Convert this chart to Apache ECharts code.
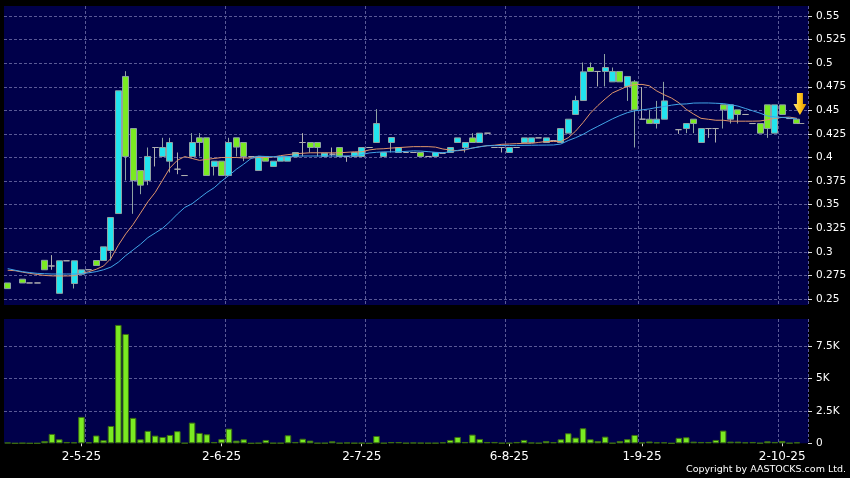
<!DOCTYPE html>
<html><head><meta charset="utf-8">
<script src="https://cdn.jsdelivr.net/npm/echarts@6/dist/echarts.min.js"></script>
<style>html,body{margin:0;padding:0;background:#000;}#c{width:850px;height:478px;}</style>
</head><body><div id="c"></div>
<script>
const openP = [.267,null,.271,.267,.267,.291,.285,.256,.2905,.2664,.2763,.281,.2908,.2908,.3014,.3406,.4859,.4307,.3862,.3756,
.4106,.4011,.3961,.3876,.3809,.4011,.4209,.4209,.3905,.3961,.3809,.4209,.4159,.401,.3862,.4011,.3905,.3961,.3961,.4007,
.4159,.4159,.4159,.4011,.4035,.4106,.4011,.4011,.4011,.4106,.4159,.4011,.4159,.4053,.4053,.4053,.4053,.4011,.4011,.4045,
.4053,.4159,.4106,.4208,.4159,.4258,.4106,.4106,.4053,.4106,.4159,.4159,.4208,.4159,.418,.4159,.4258,.4456,.4604,.4954,
.4912,.4912,.4802,.4912,.4753,.4802,.4406,.4406,.436,.4406,null,.4295,.4307,.4406,.4159,.4307,.4307,.4558,.4406,.4505,
.4456,.436,.436,.4558,.4258,.4558,.4413,.4406];
const closeP = [.261,null,.267,.267,.267,.281,.285,.2905,.2905,.2905,.2809,.281,.2855,.3053,.3364,.4707,.4011,.3756,.3707,.4011,
.4106,.4106,.4159,.3876,.3809,.4159,.4159,.3809,.3961,.3809,.4159,.4110,.4011,.401,.4011,.3961,.3961,.4007,.4007,.4053,
.4159,.4106,.4106,.4046,.4035,.4011,.4011,.4053,.4106,.4106,.436,.4053,.4212,.4106,.4053,.4053,.4011,.4011,.4053,.4045,
.4106,.4208,.4159,.4159,.4258,.4258,.4106,.4106,.4106,.4106,.4208,.4208,.4208,.4208,.418,.4307,.4406,.4604,.4908,.4912,
.4912,.4954,.4912,.4802,.4859,.4505,.4406,.436,.4406,.460,null,.4295,.436,.436,.4307,.4307,.4307,.4505,.4558,.4456,
.4456,.436,.4258,.4307,.4558,.4456,.4413,.436];
const lowP = [.261,null,.267,.267,.267,.281,.281,.256,.2905,.2611,.2763,.281,.2855,.2908,.2908,.3406,.3756,.3403,.3611,.3707,
.3905,.4011,.3841,.3823,.3809,.4011,.4011,.3809,.3809,.3809,.3809,.4011,.3961,.401,.3862,.3961,.3905,.3961,.3961,.4007,
.4011,.4053,.4011,.4011,.4011,.4011,.3954,.4011,.4011,.4106,.4159,.4011,.4053,.4053,.4053,.4053,.4011,.4011,.4011,.4045,
.4053,.4159,.4053,.4159,.4159,.4258,.4106,.4053,.4053,.4106,.4159,.4159,.4208,.4159,.418,.4159,.4258,.4456,.4604,.4912,
.4753,.4753,.4802,.4802,.4600,.4106,.4406,.436,.4307,.4406,null,.425,.4258,.4258,.4159,.4208,.4159,.4307,.436,.436,
.4456,.436,.4258,.4208,.4258,.4456,.4413,.436];
const highP = [.267,null,.271,.267,.267,.291,.2965,.2905,.2905,.2905,.2809,.281,.2908,.3053,.3364,.4707,.4915,.4307,.3862,.4106,
.4106,.4209,.4209,.4053,.3809,.4258,.4258,.4209,.3961,.3961,.4209,.4209,.4159,.401,.4011,.4011,.3961,.4007,.4007,.4053,
.4258,.4159,.4159,.4046,.4106,.4106,.4011,.4053,.4106,.4106,.4512,.4053,.4212,.4106,.4053,.4053,.4053,.4011,.4053,.4045,
.4106,.4208,.4159,.4258,.4258,.4258,.4106,.4106,.4106,.4106,.4208,.4208,.4208,.4208,.418,.4307,.4406,.4654,.5007,.5007,
.4912,.5097,.4954,.4912,.4859,.482,.4747,.4505,.460,.4802,null,.4295,.436,.4406,.4307,.4307,.4307,.4558,.4558,.4505,
.4456,.436,.436,.4558,.4558,.4558,.4413,.4406];
const volume = [50,0,20,0,0,180,722,309,103,77,2036,77,600,240,1335,9123,8427,1959,309,960,
593,490,644,935,20,1595,799,696,103,335,1130,206,309,0,20,258,20,20,618,103,
350,206,20,20,155,20,52,20,20,0,565,20,100,100,20,50,30,20,20,77,
258,490,103,670,335,103,103,20,20,103,258,50,20,180,90,309,773,438,1160,309,
180,515,20,180,320,644,60,140,77,77,0,420,464,129,103,103,258,979,129,129,
77,103,20,155,103,180,20,77];
const maShort = [.2805,.280,.2785,.2772,.276,.275,.2745,.2744,.2744,.2746,.277,.279,.2815,.285,.293,.307,.319,.329,.341,.353,
.363,.376,.389,.397,.401,.399,.397,.398,.399,.400,.400,.400,.3995,.3995,.400,.400,.4005,.402,.403,.404,
.4045,.405,.405,.405,.405,.405,.4055,.406,.406,.408,.409,.4093,.410,.4105,.411,.4115,.4115,.4115,.411,.409,
.408,.4072,.408,.410,.4115,.4125,.413,.414,.4143,.4147,.415,.415,.416,.417,.417,.417,.421,.428,.437,.447,
.455,.462,.4685,.472,.4755,.4772,.4775,.476,.4705,.4665,.463,.458,.451,.446,.4415,.4405,.4395,.4395,.4385,.4385,
.4385,.4385,.4387,.440,.4415,.4425,.4428,.4415];
const maLong = [.2822,.2805,.279,.278,.2772,.2768,.2765,.2765,.2765,.2765,.2768,.2778,.279,.281,.2838,.289,.296,.302,.308,.315,
.320,.325,.332,.340,.347,.351,.357,.363,.368,.375,.381,.3875,.393,.399,.4015,.401,.4008,.4009,.401,.4015,
.4016,.4016,.4016,.4016,.4016,.4016,.4016,.4018,.403,.4048,.4055,.406,.406,.406,.4065,.407,.4068,.4062,.4055,.4051,
.406,.4075,.4088,.410,.4113,.4125,.4126,.4127,.4127,.4128,.4129,.413,.4131,.4132,.4133,.4143,.418,.421,.4245,.429,
.433,.437,.441,.4445,.4475,.4495,.4505,.4515,.453,.454,.4555,.4565,.4568,.4577,.4578,.4578,.4575,.4571,.456,.4545,
.452,.4495,.447,.444,.443,.4425,.4419,.4408];
const slotCount = 109;
const tickIndex = [10,29,48,68,86,105];
const tickLabels = ['2-5-25','2-6-25','2-7-25','6-8-25','1-9-25','2-10-25'];
const gridBoundaries = [11,30,49,68,86,105];
const lastIndex = 107;
const lastPrice = 0.436;
const arrowPrice = 0.4567;

const categories = [];
for (let i = 0; i < slotCount; i++) categories.push(String(i));
const candleData = openP.map((o, i) => o == null ? ['-','-','-','-'] : [o, closeP[i], lowP[i], highP[i]]);

const FONT = 'DejaVu Sans';
const NAVY = '#00004a';
const GRIDC = '#5a5a96';
const dash = { color: GRIDC, width: 1, type: [3, 2] };

const chart = echarts.init(document.getElementById('c'));
chart.setOption({
  animation: false,
  backgroundColor: '#000000',
  title: {
    text: 'Copyright by AASTOCKS.com Ltd.', right: 4, top: 465, padding: 0,
    textStyle: { color: '#ffffff', fontSize: 9.5, fontWeight: 'normal', fontFamily: FONT }
  },
  grid: [
    { left: 4, right: 42, top: 16, height: 283 },
    { left: 4, right: 42, top: 319, height: 124.3, show: true, backgroundColor: NAVY, borderWidth: 0 },
    { left: 4, right: 42, top: 6, height: 299, show: true, backgroundColor: NAVY, borderWidth: 0, z: -1 }
  ],
  xAxis: [
    { type: 'category', gridIndex: 0, data: categories, boundaryGap: true,
      axisLine: { show: false }, axisTick: { show: false }, axisLabel: { show: false }, splitLine: { show: false } },
    { type: 'category', gridIndex: 1, data: categories, boundaryGap: true, offset: 3,
      axisLine: { show: false },
      axisTick: { show: true, alignWithLabel: true, length: 3, lineStyle: { color: '#dddddd' },
        interval: (idx) => tickIndex.includes(idx) },
      axisLabel: { show: true, color: '#ffffff', fontSize: 12, fontFamily: FONT, margin: 5,
        interval: (idx) => tickIndex.includes(idx),
        formatter: (v, idx) => { const k = tickIndex.indexOf(Number(v)); return k >= 0 ? tickLabels[k] : ''; } },
      splitLine: { show: true, lineStyle: dash, interval: (idx) => gridBoundaries.includes(idx) } },
    { type: 'category', gridIndex: 2, data: categories, boundaryGap: true,
      axisLine: { show: false }, axisTick: { show: false }, axisLabel: { show: false },
      splitLine: { show: true, lineStyle: dash, interval: (idx) => gridBoundaries.includes(idx) } }
  ],
  yAxis: [
    { type: 'value', gridIndex: 0, position: 'right', min: 0.25, max: 0.55, interval: 0.025,
      axisLine: { show: false },
      axisTick: { show: true, length: 4, lineStyle: { color: '#dddddd' } },
      axisLabel: { color: '#ffffff', fontSize: 10.5, fontFamily: FONT, margin: 8 },
      splitLine: { show: true, lineStyle: dash } },
    { type: 'value', gridIndex: 1, position: 'right', min: 0, max: 9580, interval: 2500,
      axisLine: { show: false },
      axisTick: { show: true, length: 4, lineStyle: { color: '#dddddd' } },
      axisLabel: { color: '#ffffff', fontSize: 10.5, fontFamily: FONT, margin: 8, showMaxLabel: false,
        formatter: (v) => v === 0 ? '0' : (v / 1000) + 'K' },
      splitLine: { show: true, lineStyle: dash, showMinLine: false, showMaxLine: false } },
    { type: 'value', gridIndex: 2, show: false, min: 0, max: 1 }
  ],
  series: [
    { type: 'candlestick', xAxisIndex: 0, yAxisIndex: 0, data: candleData, barWidth: '88%', z: 3,
      itemStyle: { color: '#22e4ee', color0: '#7aea22', borderColor: '#8fa3a3', borderColor0: '#8fa3a3',
        borderColorDoji: '#b0b0b0', borderWidth: 1 },
      markPoint: {
        silent: true,
        data: [{ coord: [lastIndex, arrowPrice], symbol: 'path://M3.5,0 L9.5,0 L9.5,11 L13,11 L6.5,22 L0,11 L3.5,11 Z',
          symbolSize: [13, 22], symbolOffset: [3, 0],
          itemStyle: { color: { type: 'linear', x: 0, y: 0, x2: 1, y2: 0,
            colorStops: [{ offset: 0, color: '#ffe680' }, { offset: 0.5, color: '#ffc61a' }, { offset: 1, color: '#d99000' }] } },
          label: { show: false } }]
      },
      markLine: {
        silent: true, symbol: 'none', label: { show: false },
        lineStyle: { color: '#a0a0a0', width: 1, type: 'solid' },
        data: [[{ coord: [lastIndex, lastPrice] }, { coord: [lastIndex + 1, lastPrice] }]]
      }
    },
    { type: 'line', xAxisIndex: 0, yAxisIndex: 0, data: maShort, symbol: 'none', z: 4,
      lineStyle: { color: '#e0956b', width: 1 } },
    { type: 'line', xAxisIndex: 0, yAxisIndex: 0, data: maLong, symbol: 'none', z: 4,
      lineStyle: { color: '#42a5e8', width: 1 } },
    { type: 'bar', xAxisIndex: 1, yAxisIndex: 1, data: volume, barWidth: '88%',
      itemStyle: { color: '#7aea22', borderColor: '#3c6e12', borderWidth: 1 } }
  ]
});
</script></body></html>
